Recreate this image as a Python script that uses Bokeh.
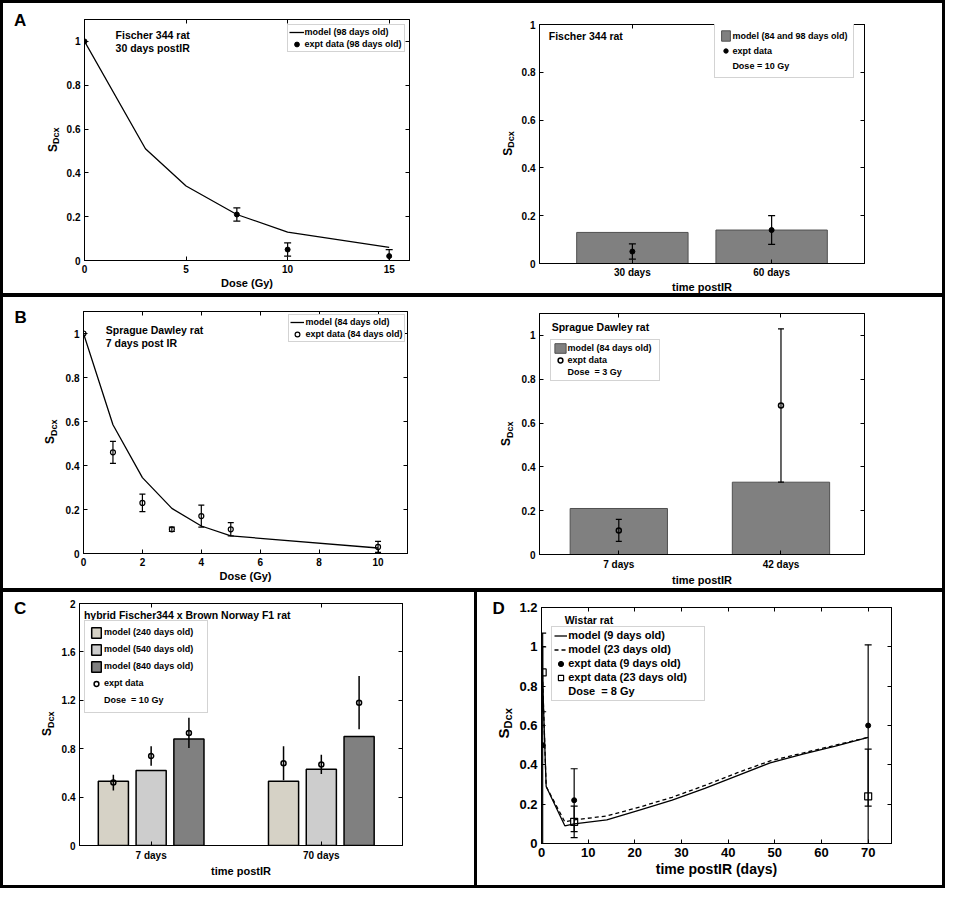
import math
from bokeh.plotting import figure
from bokeh.models import (ColumnDataSource, Whisker, TeeHead, Legend, LegendItem,
                          Label, LinearAxis, FixedTicker, Range1d)
from bokeh.core.properties import value
from bokeh.layouts import row, column
from bokeh.embed import file_html
from bokeh.resources import INLINE

FONT = "Liberation Sans"

# ---------------- data ----------------
A_dose_model = [0, 3, 5, 7.5, 10, 15]
A_S_model = [1.0, 0.51, 0.34, 0.21, 0.13, 0.06]
A_dose_expt = [0, 7.5, 10, 15]
A_S_expt = [1.0, 0.21, 0.05, 0.02]
A_S_err = [0.0, 0.03, 0.03, 0.03]

A2_cats = ["30 days", "60 days"]
A2_model = [0.13, 0.14]
A2_expt = [0.05, 0.14]
A2_err = [0.032, 0.06]

B_dose_model = [0, 1, 2, 3, 4, 5, 10]
B_S_model = [1.0, 0.585, 0.345, 0.205, 0.125, 0.08, 0.025]
B_dose_expt = [0, 1, 2, 3, 4, 5, 10]
B_S_expt = [1.0, 0.46, 0.23, 0.11, 0.17, 0.11, 0.03]
B_S_err = [0.0, 0.05, 0.04, 0.01, 0.05, 0.03, 0.025]

B2_cats = ["7 days", "42 days"]
B2_model = [0.21, 0.33]
B2_expt = [0.11, 0.68]
B2_err = [0.05, 0.35]

C_cats = ["7 days", "70 days"]
C_model_240 = [0.53, 0.53]
C_model_540 = [0.62, 0.63]
C_model_840 = [0.88, 0.90]
C_expt_240 = [0.52, 0.68]
C_err_240 = [0.065, 0.14]
C_expt_540 = [0.74, 0.67]
C_err_540 = [0.08, 0.08]
C_expt_840 = [0.93, 1.18]
C_err_840 = [0.125, 0.22]

D_t_model = [0, 1, 5, 7, 14, 21, 28, 35, 42, 49, 56, 63, 70]
D_model_9 = [1.0, 0.29, 0.09, 0.10, 0.12, 0.17, 0.22, 0.28, 0.345, 0.41, 0.455, 0.495, 0.54]
D_model_23 = [1.0, 0.29, 0.11, 0.12, 0.14, 0.185, 0.235, 0.295, 0.36, 0.42, 0.46, 0.50, 0.54]
D_t_expt = [0.25, 7, 70]
D_expt_9 = [0.50, 0.22, 0.60]
D_err_9 = [0.50, 0.16, 0.41]
D_expt_23 = [0.87, 0.11, 0.24]
D_err_23 = [0.20, 0.08, 0.24]

# tick values / labels
A_xticks = [0, 5, 10, 15]
A_xlabels = ["0", "5", "10", "15"]
B_xticks = [0, 2, 4, 6, 8, 10]
B_xlabels = ["0", "2", "4", "6", "8", "10"]
S_ticks = [0, 0.2, 0.4, 0.6, 0.8, 1.0]
S_labels = ["0", "0.2", "0.4", "0.6", "0.8", "1"]
C_yticks = [0, 0.4, 0.8, 1.2, 1.6, 2.0]
C_ylabels = ["0", "0.4", "0.8", "1.2", "1.6", "2"]
D_xticks = [0, 10, 20, 30, 40, 50, 60, 70]
D_xlabels = ["0", "10", "20", "30", "40", "50", "60", "70"]
D_yticks = [0, 0.2, 0.4, 0.6, 0.8, 1.0, 1.2]
D_ylabels = ["0", "0.2", "0.4", "0.6", "0.8", "1", "1.2"]
cat_ticks = [1, 2]


# ---------------- helpers ----------------
def no_align(fig):
    try:
        fig.frame_align = False
    except Exception:
        pass


def make_panel(X0, Y0, refW, refH, W, H, L, R, T, B, main_left, borders):
    sx = W / refW
    sy = H / refH
    P = dict(X0=X0, Y0=Y0, W=W, H=H, sx=sx, sy=sy, borders=borders)
    P["mbl"] = int(round((L - X0) * sx))
    P["mbr"] = W - int(round((R - X0) * sx))
    P["mbt"] = int(round((T - Y0) * sy))
    P["mbb"] = H - int(round((B - Y0) * sy))
    P["Ws"] = P["mbl"] - main_left
    return P


def shadow(l=0, r=0, t=0, b=0):
    parts = []
    if l:
        parts.append(f"inset {l}px 0 0 0 #000")
    if r:
        parts.append(f"inset -{r}px 0 0 0 #000")
    if t:
        parts.append(f"inset 0 {t}px 0 0 #000")
    if b:
        parts.append(f"inset 0 -{b}px 0 0 #000")
    return ", ".join(parts) if parts else "none"


def to_frame(P, X, Y):
    return ((X - P["X0"]) * P["sx"] - P["mbl"],
            (P["H"] - P["mbb"]) - (Y - P["Y0"]) * P["sy"])


def overrides(ticks, labels):
    return {t: l for t, l in zip(ticks, labels)}


def make_fig(P, xr, yr, xticks, xlabels, yticks, ylabels, top_ticks,
             fs_tick, xtitle, fs_title, label_standoff=4, title_standoff=1, xlabel_standoff=None):
    l, r, t, b = P["borders"]
    p = figure(width=P["W"] - P["Ws"], height=P["H"], x_range=Range1d(*xr), y_range=Range1d(*yr),
               output_backend="svg", toolbar_location=None, title_location=None,
               min_border_left=P["mbl"] - P["Ws"], min_border_right=P["mbr"],
               min_border_top=P["mbt"], min_border_bottom=P["mbb"])
    no_align(p)
    p.border_fill_color = None
    p.background_fill_color = "white"
    p.outline_line_color = "black"
    p.outline_line_width = 1
    p.xgrid.visible = False
    p.ygrid.visible = False
    p.styles = {"box-shadow": shadow(0, r, t, b)}
    for ax, ticks, labels in ((p.xaxis[0], xticks, xlabels), (p.yaxis[0], yticks, ylabels)):
        ax.ticker = FixedTicker(ticks=ticks)
        ax.major_label_overrides = overrides(ticks, labels)
        ax.major_tick_in = 4
        ax.major_tick_out = 0
        ax.minor_tick_line_color = None
        ax.axis_line_color = "black"
        ax.major_tick_line_color = "black"
        ax.major_label_text_font = FONT
        ax.major_label_text_font_style = "bold"
        ax.major_label_text_font_size = f"{fs_tick}px"
        ax.major_label_text_color = "black"
        ax.major_label_standoff = label_standoff
        ax.axis_label_standoff = 0
    xa = p.xaxis[0]
    if xlabel_standoff is not None:
        xa.major_label_standoff = xlabel_standoff
    xa.axis_label = xtitle
    xa.axis_label_text_font = FONT
    xa.axis_label_text_font_style = "bold"
    xa.axis_label_text_font_size = f"{fs_title}px"
    xa.axis_label_text_color = "black"
    xa.axis_label_standoff = title_standoff
    for loc, ticks in (("above", top_ticks), ("right", yticks)):
        ax = LinearAxis(ticker=FixedTicker(ticks=ticks),
                        major_label_overrides=overrides(ticks, [""] * len(ticks)),
                        major_label_text_font_size="1px", major_label_standoff=0,
                        axis_label_standoff=0,
                        major_tick_in=4, major_tick_out=0, minor_tick_line_color=None,
                        axis_line_color="black", major_tick_line_color="black")
        p.add_layout(ax, loc)
    return p


def make_strip(P, letter=None, letter_xy=None, ylab=None):
    """Left margin strip holding the panel letter and the S_Dcx axis title."""
    l, r, t, b = P["borders"]
    Ws, H = P["Ws"], P["H"]
    s = figure(width=Ws, height=H, x_range=Range1d(0, Ws), y_range=Range1d(0, H),
               output_backend="svg", toolbar_location=None, title_location=None,
               x_axis_location=None, y_axis_location=None,
               min_border=0, min_border_left=0, min_border_right=0,
               min_border_top=0, min_border_bottom=0)
    no_align(s)
    s.outline_line_color = None
    s.border_fill_color = None
    s.background_fill_color = None
    s.grid.visible = False
    s.styles = {"box-shadow": shadow(l, 0, t, b)}

    def loc(X, Y):
        return (X - P["X0"]) * P["sx"], H - (Y - P["Y0"]) * P["sy"]

    if letter:
        x, y = loc(*letter_xy)
        s.text(x=[x], y=[y], text=[letter], text_font=value(FONT), text_font_style="bold",
               text_font_size="17px", text_align="center", text_baseline="middle",
               text_color="black")
    if ylab:
        xS, xD, yc, fS, fD = ylab
        wS = 0.667 * fS / P["sy"]
        wD = 1.834 * fD / P["sy"]
        y0 = yc + (wS + wD) / 2
        x1, y1 = loc(xS, y0)
        x2, y2 = loc(xD, y0 - wS)
        shift = min(0.0, (Ws - 1) - (x2 + 0.58 * fD))
        s.text(x=[x1 + shift], y=[y1], text=["S"], text_font=value(FONT), text_font_style="bold",
               text_font_size=f"{fS}px", text_align="left", text_baseline="middle",
               angle=math.pi / 2, text_color="black")
        s.text(x=[x2 + shift], y=[y2], text=["Dcx"], text_font=value(FONT), text_font_style="bold",
               text_font_size=f"{fD}px", text_align="left", text_baseline="middle",
               angle=math.pi / 2, text_color="black")
    return s


def add_text(p, P, X, Y, text, size, align="left", baseline="middle"):
    fx, fy = to_frame(P, X, Y)
    p.add_layout(Label(x=fx, y=fy, x_units="screen", y_units="screen", text=text,
                       text_font=FONT, text_font_style="bold", text_font_size=f"{size}px",
                       text_color="black", text_align=align, text_baseline=baseline,
                       level="overlay"))


def add_legend(p, P, items, left, bottom, fs, gw, gh, spacing, padding, lw, standoff=1):
    fx, fy = to_frame(P, left, bottom)
    leg = Legend(items=items, location=(fx, fy), orientation="vertical",
                 label_text_font=FONT, label_text_font_style="bold",
                 label_text_font_size=f"{fs}px", label_text_color="black",
                 glyph_width=gw, glyph_height=gh, label_height=gh, label_width=lw,
                 label_standoff=standoff, spacing=spacing, padding=padding, margin=0,
                 border_line_color="#a8a8a8", border_line_width=1,
                 background_fill_color="white", background_fill_alpha=1.0)
    p.add_layout(leg)


def add_err(p, xs, ys, es, head=7, lw=1.2):
    xx, up, lo = [], [], []
    for x, y, e in zip(xs, ys, es):
        if e > 0:
            xx.append(x)
            up.append(y + e)
            lo.append(max(0.0, y - e))
    src = ColumnDataSource(dict(x=xx, up=up, lo=lo))
    uh = TeeHead(size=head, line_color="black", line_width=lw) if head else None
    lh = TeeHead(size=head, line_color="black", line_width=lw) if head else None
    p.add_layout(Whisker(source=src, base="x", upper="up", lower="lo", line_color="black",
                         line_width=lw, upper_head=uh, lower_head=lh, level="annotation"))


# panel geometry (reference pixels -> page pixels); borders = (left, right, top, bottom)
PA1 = make_panel(0, 0, 480, 301, 471, 295, 86, 417, 19, 265, 22, (3, 0, 3, 2))
PA2 = make_panel(480, 0, 483, 301, 474, 295, 549.3, 880, 24, 269.3, 22, (0, 3, 3, 2))
PB1 = make_panel(0, 301, 480, 301, 471, 295, 84.3, 415, 317.7, 564, 22, (3, 0, 2, 2))
PB2 = make_panel(480, 301, 483, 301, 474, 295, 549.3, 880, 319, 565, 22, (0, 3, 2, 2))
PC = make_panel(0, 602, 485, 304, 476, 298, 81, 410, 615.7, 862.3, 22, (3, 2, 2, 3))
PD = make_panel(485, 602, 478, 304, 469, 298, 551.7, 907.7, 619, 860, 26, (1, 3, 2, 3))

BAR_GRAY = "#808080"

# ---------------- Panel A left ----------------
sA1 = make_strip(PA1, "A", (20, 20), (55.7, 59.5, 142, 12, 9))
pA1 = make_fig(PA1, (0, 16), (0, 1.1), A_xticks, A_xlabels, S_ticks, S_labels, A_xticks,
               10, "Dose (Gy)", 11)
rA1_line = pA1.line(A_dose_model, A_S_model, line_color="black", line_width=1.3)
add_err(pA1, A_dose_expt, A_S_expt, A_S_err, head=7)
rA1_pts = pA1.scatter(A_dose_expt, A_S_expt, marker="circle", size=5,
                      fill_color="black", line_color="black")
add_legend(pA1, PA1, [LegendItem(label="model (98 days old)", renderers=[rA1_line]),
                      LegendItem(label="expt data (98 days old)", renderers=[rA1_pts])],
           292, 52.7, 9, 15, 12, 0, 1, 98)
add_text(pA1, PA1, 117.3, 35, "Fischer 344 rat", 10.5)
add_text(pA1, PA1, 117.3, 48.3, "30 days postIR", 10.5)

# ---------------- Panel A right ----------------
sA2 = make_strip(PA2, ylab=(517.2, 520.5, 146, 12, 9))
pA2 = make_fig(PA2, (0.333, 2.667), (0, 1.0), cat_ticks, A2_cats, S_ticks, S_labels, cat_ticks,
               10, "time postIR", 11, title_standoff=0, xlabel_standoff=3)
rA2_bar = pA2.vbar(x=cat_ticks, top=A2_model, width=0.8, fill_color=BAR_GRAY,
                   line_color="#505050", line_width=1)
add_err(pA2, cat_ticks, A2_expt, A2_err, head=7)
rA2_pts = pA2.scatter(cat_ticks, A2_expt, marker="circle", size=5,
                      fill_color="black", line_color="black")
add_legend(pA2, PA2, [LegendItem(label="model (84 and 98 days old)", renderers=[rA2_bar]),
                      LegendItem(label="expt data", renderers=[rA2_pts]),
                      LegendItem(label="Dose = 10 Gy", renderers=[])],
           728, 81, 9, 11, 13, 2, 5, 116)
add_text(pA2, PA2, 558.7, 37, "Fischer 344 rat", 10.5)

# ---------------- Panel B left ----------------
sB1 = make_strip(PB1, "B", (20.5, 323.7), (50, 54.5, 440, 12, 9))
pB1 = make_fig(PB1, (0, 11), (0, 1.1), B_xticks, B_xlabels, S_ticks, S_labels, B_xticks,
               10, "Dose (Gy)", 11)
rB1_line = pB1.line(B_dose_model, B_S_model, line_color="black", line_width=1.3)
add_err(pB1, B_dose_expt, B_S_expt, B_S_err, head=6)
rB1_pts = pB1.scatter(B_dose_expt, B_S_expt, marker="circle", size=5, fill_color=None,
                      line_color="black", line_width=1.2)
add_legend(pB1, PB1, [LegendItem(label="model (84 days old)", renderers=[rB1_line]),
                      LegendItem(label="expt data (84 days old)", renderers=[rB1_pts])],
           294, 349, 9, 14, 12, 0, 1, 98)
add_text(pB1, PB1, 107.3, 335.7, "Sprague Dawley rat", 10.5)
add_text(pB1, PB1, 107.3, 349.3, "7 days post IR", 10.5)

# ---------------- Panel B right ----------------
sB2 = make_strip(PB2, ylab=(515, 519.5, 442, 12, 9))
pB2 = make_fig(PB2, (0.511, 2.515), (0, 1.1), cat_ticks, B2_cats, S_ticks, S_labels, cat_ticks,
               10, "time postIR", 11)
rB2_bar = pB2.vbar(x=cat_ticks, top=B2_model, width=0.6, fill_color=BAR_GRAY,
                   line_color="#505050", line_width=1)
add_err(pB2, cat_ticks, B2_expt, B2_err, head=6)
rB2_pts = pB2.scatter(cat_ticks, B2_expt, marker="circle", size=5, fill_color=None,
                      line_color="black", line_width=1.5)
add_legend(pB2, PB2, [LegendItem(label="model (84 days old)", renderers=[rB2_bar]),
                      LegendItem(label="expt data", renderers=[rB2_pts]),
                      LegendItem(label="Dose  = 3 Gy", renderers=[])],
           560, 389, 9, 14, 12, 0, 2, 89)
add_text(pB2, PB2, 561.7, 333.3, "Sprague Dawley rat", 10.5)

# ---------------- Panel C ----------------
sC = make_strip(PC, "C", (20, 620.8), (50, 54, 738, 12, 9))
pC = make_fig(PC, (0.579, 2.477), (0, 2.0), cat_ticks, C_cats, C_yticks, C_ylabels, cat_ticks,
              10, "time postIR", 11)
C_offsets = [-0.222, 0.0, 0.222]
C_colors = ["#d6d2c6", "#cdcdcd", "#808080"]
C_models = [C_model_240, C_model_540, C_model_840]
C_expts = [C_expt_240, C_expt_540, C_expt_840]
C_errs = [C_err_240, C_err_540, C_err_840]
C_names = ["model (240 days old)", "model (540 days old)", "model (840 days old)"]
C_bar_rs = []
C_pt_r = None
for off, col, mv in zip(C_offsets, C_colors, C_models):
    xs = [g + off for g in cat_ticks]
    C_bar_rs.append(pC.vbar(x=xs, top=mv, width=0.177, fill_color=col,
                            line_color="black", line_width=1.5))
for off, ev, er in zip(C_offsets, C_expts, C_errs):
    xs = [g + off for g in cat_ticks]
    add_err(pC, xs, ev, er, head=0, lw=1.5)
    C_pt_r = pC.scatter(xs, ev, marker="circle", size=5, fill_color=None,
                        line_color="black", line_width=1.5)
add_legend(pC, PC, [LegendItem(label=n, renderers=[r]) for n, r in zip(C_names, C_bar_rs)] +
           [LegendItem(label="expt data", renderers=[C_pt_r]),
            LegendItem(label="Dose  = 10 Gy", renderers=[])],
           85.7, 727, 9, 12, 13, 4, 5, 98, standoff=2)
add_text(pC, PC, 85, 626.7, "hybrid Fischer344 x Brown Norway F1 rat", 10.5)

# ---------------- Panel D ----------------
sD = make_strip(PD, "D", (507.5, 620.8), (515.8, 520, 737.5, 15, 11))
pD = make_fig(PD, (0, 75), (0, 1.2), D_xticks, D_xlabels, D_yticks, D_ylabels, D_xticks,
              13, "time postIR (days)", 14, label_standoff=4, title_standoff=1)
rD_9 = pD.line(D_t_model, D_model_9, line_color="black", line_width=1.3)
rD_23 = pD.line(D_t_model, D_model_23, line_color="black", line_width=1.3, line_dash="4 3")
add_err(pD, D_t_expt, D_expt_9, D_err_9, head=7)
add_err(pD, D_t_expt, D_expt_23, D_err_23, head=7)
rD_p9 = pD.scatter(D_t_expt, D_expt_9, marker="circle", size=5, fill_color="black",
                   line_color="black")
rD_p23 = pD.scatter(D_t_expt, D_expt_23, marker="square", size=7, fill_color=None,
                    line_color="black", line_width=1.2)
add_legend(pD, PD, [LegendItem(label="model (9 days old)", renderers=[rD_9]),
                    LegendItem(label="model (23 days old)", renderers=[rD_23]),
                    LegendItem(label="expt data (9 days old)", renderers=[rD_p9]),
                    LegendItem(label="expt data (23 days old)", renderers=[rD_p23]),
                    LegendItem(label="Dose  = 8 Gy", renderers=[])],
           561.7, 715, 11, 13, 13, 1, 2, 134)
add_text(pD, PD, 575, 632.3, "Wistar rat", 10.5)

layout = column(row(sA1, pA1, sA2, pA2), row(sB1, pB1, sB2, pB2), row(sC, pC, sD, pD))
open("out.html", "w").write(file_html(layout, INLINE))
